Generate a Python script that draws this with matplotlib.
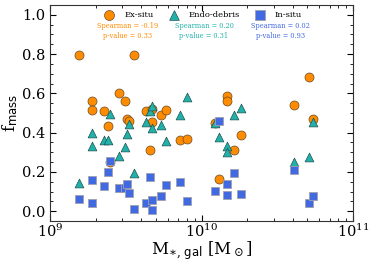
import matplotlib
matplotlib.use("Agg")
import matplotlib.pyplot as plt
from matplotlib.ticker import AutoMinorLocator

plt.rcParams['font.family'] = 'DejaVu Serif'
plt.rcParams['mathtext.fontset'] = 'dejavuserif'

# galaxy stellar mass and mass fractions of each component
mass = [1.56e9, 1.90e9, 1.90e9, 2.27e9, 2.42e9, 2.49e9, 2.83e9, 3.10e9, 3.24e9, 3.34e9,
        3.57e9, 4.28e9, 4.56e9, 4.68e9, 4.68e9, 5.36e9, 5.81e9, 7.23e9, 8.04e9, 1.23e10,
        1.31e10, 1.47e10, 1.47e10, 1.64e10, 1.82e10, 4.09e10, 5.14e10, 5.41e10]
ex_situ = [0.797, 0.562, 0.514, 0.512, 0.436, 0.25, 0.603, 0.562, 0.470, 0.461,
           0.797, 0.512, 0.313, 0.453, 0.518, 0.489, 0.514, 0.363, 0.368, 0.448,
           0.163, 0.586, 0.562, 0.313, 0.388, 0.540, 0.681, 0.468]
endo_debris = [0.141, 0.400, 0.332, 0.363, 0.363, 0.495, 0.281, 0.325, 0.393, 0.444,
               0.196, 0.453, 0.511, 0.536, 0.422, 0.438, 0.356, 0.492, 0.581, 0.448,
               0.380, 0.332, 0.301, 0.492, 0.523, 0.248, 0.277, 0.456]
in_situ = [0.061, 0.039, 0.158, 0.127, 0.201, 0.254, 0.116, 0.116, 0.138, 0.093,
           0.012, 0.042, 0.175, 0.008, 0.056, 0.076, 0.131, 0.148, 0.053, 0.104,
           0.458, 0.083, 0.138, 0.196, 0.087, 0.211, 0.042, 0.076]

c_ex = '#ff8c00'
c_endo = '#20b2aa'
c_in = '#4169e1'

fig = plt.figure(figsize=(3.74, 2.64), dpi=100)
ax = fig.add_axes([0.134, 0.163, 0.81, 0.818])

ax.scatter(mass, ex_situ, s=42, marker='o', color=c_ex, edgecolor='#6b4a20', linewidth=0.5,
           label='Ex-situ', zorder=2)
ax.scatter(mass, endo_debris, s=40, marker='^', color=c_endo, edgecolor='#205050', linewidth=0.5,
           label='Endo-debris', zorder=3)
ax.scatter(mass, in_situ, s=36, marker='s', color=c_in, edgecolor='#a0a0b0', linewidth=0.6,
           label='In-situ', zorder=4)

ax.set_xscale('log')
ax.set_xlim(1e9, 1e11)
ax.set_ylim(-0.05, 1.05)
ax.set_yticks([0.0, 0.2, 0.4, 0.6, 0.8, 1.0])
ax.yaxis.set_minor_locator(AutoMinorLocator(4))
ax.tick_params(which='both', direction='in', top=True, right=True, labelsize=10.5)
ax.tick_params(axis='x', pad=1.5)
ax.tick_params(which='major', length=4, width=0.8)
ax.tick_params(which='minor', length=2, width=0.6)
for sp in ax.spines.values():
    sp.set_linewidth(0.8)
    sp.set_color('#333333')

ax.set_xlabel(r'M$_{\ast,\,\mathsf{gal}}$ [M$_\odot$]', fontsize=12, labelpad=-1)
ax.set_ylabel(r'f$_{\mathsf{mass}}$', fontsize=12, labelpad=1)

ax.legend(loc='upper center', ncol=3, frameon=False, fontsize=6, handletextpad=0.8,
          columnspacing=1.4, borderaxespad=0.3, markerscale=1.1)

ax.text(0.257, 0.92, 'Spearman = -0.19\np-value = 0.33', transform=ax.transAxes, color=c_ex,
        fontsize=4.8, ha='center', va='top', linespacing=1.35)
ax.text(0.508, 0.92, 'Spearman = 0.20\np-value = 0.31', transform=ax.transAxes, color=c_endo,
        fontsize=4.8, ha='center', va='top', linespacing=1.35)
ax.text(0.76, 0.92, 'Spearman = 0.02\np-value = 0.93', transform=ax.transAxes, color=c_in,
        fontsize=4.8, ha='center', va='top', linespacing=1.35)

fig.savefig('out.png', dpi=100)
